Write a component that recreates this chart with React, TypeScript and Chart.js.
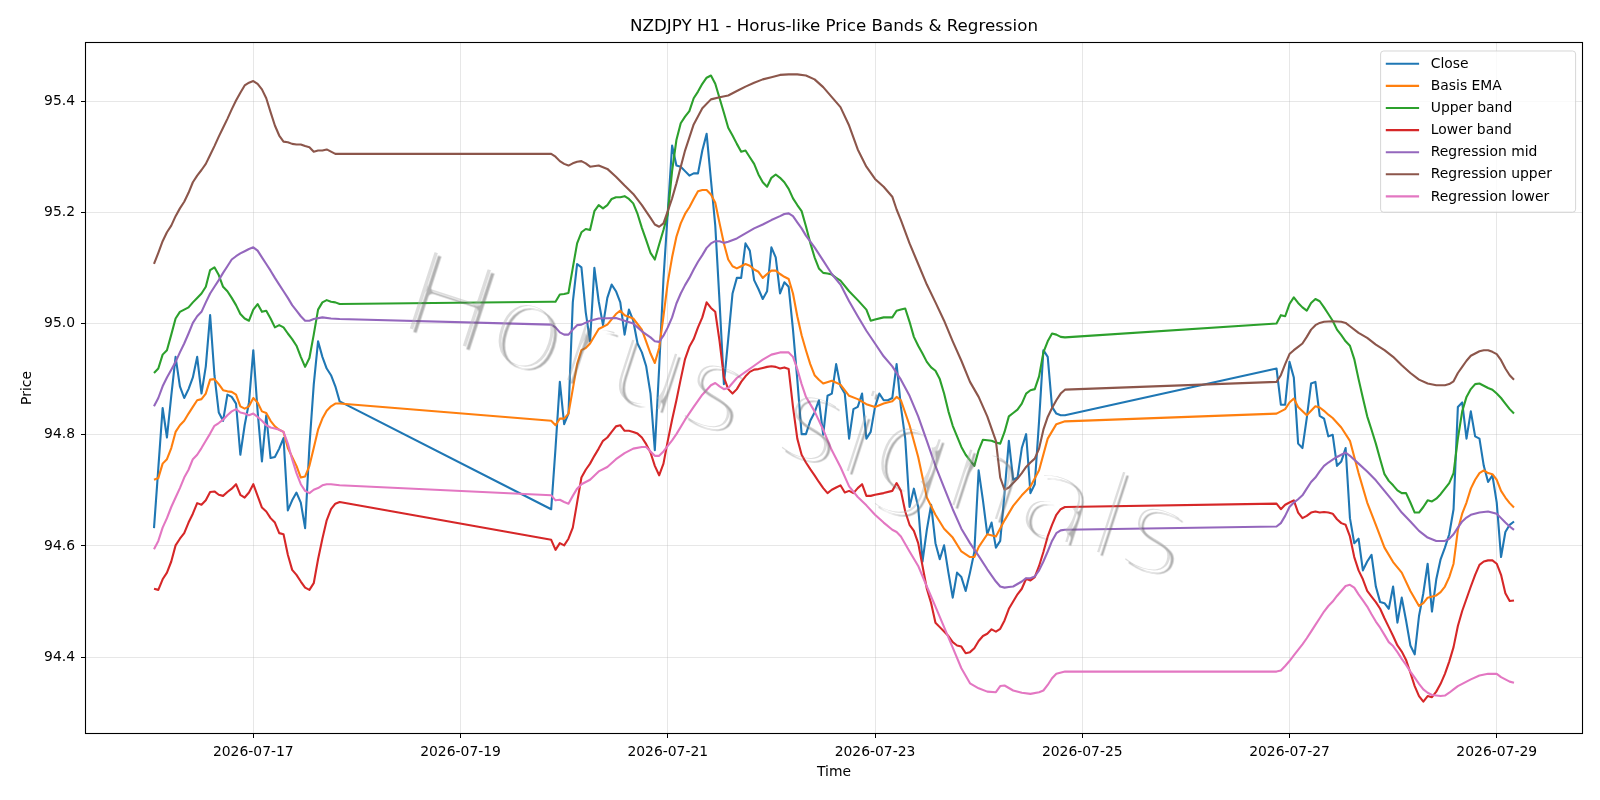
import React, { useEffect, useRef } from 'react';
import { Chart, registerables } from 'chart.js';

Chart.register(...registerables);

// Time values are hours counted from 2026-07-17 00:00 (UTC), one bar per hour.
const BASE_DATE_MS = Date.UTC(2026, 6, 17);

const chartTitle = 'NZDJPY H1 - Horus-like Price Bands & Regression';
const xAxisTitle = 'Time';
const yAxisTitle = 'Price';
const watermarkText = 'Horus signals';

const xTickStepHours = 48;
const yTickStep = 0.2;

const seriesLabels = [
  'Close',
  'Basis EMA',
  'Upper band',
  'Lower band',
  'Regression mid',
  'Regression upper',
  'Regression lower',
];
const seriesColors = ['#1f77b4', '#ff7f0e', '#2ca02c', '#d62728', '#9467bd', '#8c564b', '#e377c2'];

// Close prices, hourly, per trading session (first hour of each session below)
const sessionStartHours = [-23, 69, 237];
const closeSession1 = [
  94.632, 94.74, 94.848, 94.795, 94.87, 94.94, 94.887, 94.866, 94.882, 94.903, 94.94, 94.874,
  94.923, 95.015, 94.907, 94.84, 94.825, 94.872, 94.868, 94.856, 94.764, 94.817, 94.858, 94.952,
  94.842, 94.752, 94.835, 94.758, 94.76, 94.775, 94.794, 94.664, 94.682, 94.696, 94.678, 94.632,
  94.78, 94.89, 94.968, 94.94, 94.919, 94.907, 94.887, 94.86,
];
const closeSession2 = [
  94.666, 94.776, 94.895, 94.819, 94.838, 95.038, 95.107, 95.101, 95.02, 94.968, 95.1, 95.04,
  94.997, 95.046, 95.07, 95.058, 95.038, 94.98, 95.025, 95.005, 94.964, 94.948, 94.923, 94.874,
  94.772, 94.92, 95.08, 95.2, 95.32, 95.284, 95.282, 95.274, 95.266, 95.27, 95.27, 95.311,
  95.341, 95.258, 95.176, 95.038, 94.891, 94.972, 95.054, 95.082, 95.082, 95.144, 95.131, 95.078,
  95.062, 95.044, 95.058, 95.137, 95.119, 95.054, 95.074, 95.066, 94.989, 94.899, 94.801, 94.801,
  94.825, 94.84, 94.862, 94.8, 94.87, 94.874, 94.927, 94.887, 94.874, 94.793, 94.846, 94.85,
  94.874, 94.793, 94.805, 94.85, 94.874, 94.862, 94.862, 94.866, 94.927, 94.85, 94.793, 94.67,
  94.703, 94.67, 94.572, 94.629, 94.674, 94.605, 94.576, 94.601, 94.552, 94.507, 94.552, 94.544,
  94.519, 94.552, 94.589, 94.736, 94.682, 94.621, 94.642, 94.597, 94.609, 94.695, 94.789, 94.719,
  94.723, 94.776, 94.801, 94.695, 94.711, 94.825, 94.952, 94.94, 94.85, 94.838, 94.835, 94.835,
];
const closeSession3 = [
  94.919, 94.854, 94.854, 94.931, 94.903, 94.784, 94.776, 94.83, 94.892, 94.895, 94.834, 94.829,
  94.797, 94.8, 94.744, 94.752, 94.776, 94.65, 94.605, 94.613, 94.556, 94.572, 94.584, 94.527,
  94.499, 94.497, 94.487, 94.527, 94.462, 94.507, 94.466, 94.421, 94.405, 94.474, 94.515, 94.568,
  94.482, 94.54, 94.576, 94.597, 94.621, 94.666, 94.85, 94.858, 94.793, 94.842, 94.797, 94.793,
  94.744, 94.715, 94.727, 94.678, 94.58, 94.625, 94.638, 94.644,
];

// Indicator lines as [hour, price]
const basisEma: [number, number][] = [
  [-23, 94.719], [-22, 94.722], [-21, 94.748], [-20, 94.756], [-19, 94.776], [-18, 94.805], [-17, 94.817],
  [-16, 94.825], [-15, 94.838], [-14, 94.85], [-13, 94.862], [-12, 94.864], [-11, 94.874], [-10, 94.899],
  [-9, 94.9], [-8, 94.891], [-7, 94.88], [-6, 94.878], [-5, 94.877], [-4, 94.872], [-3, 94.851],
  [-2, 94.847], [-1, 94.851], [0, 94.866], [1, 94.858], [2, 94.842], [3, 94.839], [4, 94.825],
  [5, 94.815], [6, 94.809], [7, 94.805], [8, 94.776], [9, 94.76], [10, 94.744], [11, 94.723],
  [12, 94.725], [13, 94.744], [14, 94.776], [15, 94.809], [16, 94.829], [17, 94.843], [18, 94.851],
  [19, 94.856], [20, 94.856],
  [69, 94.825], [70, 94.817], [71, 94.829], [72, 94.829], [73, 94.838], [74, 94.882], [75, 94.927],
  [76, 94.952], [77, 94.956], [78, 94.964], [80, 94.99], [82, 94.998], [84, 95.017], [85, 95.023],
  [86, 95.015], [88, 95.009], [90, 94.989], [92, 94.946], [93, 94.929], [94, 94.956], [95, 95.013],
  [96, 95.074], [97, 95.119], [98, 95.156], [99, 95.18], [100, 95.197], [101, 95.209], [102, 95.224],
  [103, 95.238], [104, 95.24], [105, 95.24], [106, 95.232], [107, 95.217], [108, 95.18], [109, 95.144],
  [110, 95.115], [111, 95.103], [112, 95.099], [113, 95.103], [114, 95.107], [115, 95.104], [116, 95.097],
  [117, 95.093], [118, 95.082], [119, 95.089], [120, 95.095], [121, 95.095], [122, 95.089], [123, 95.084],
  [124, 95.08], [125, 95.054], [126, 95.013], [127, 94.979], [128, 94.952], [129, 94.927], [130, 94.907],
  [131, 94.899], [132, 94.892], [134, 94.897], [136, 94.89], [138, 94.87], [140, 94.864], [142, 94.855],
  [144, 94.85], [146, 94.856], [148, 94.86], [149, 94.868], [150, 94.862], [152, 94.817], [154, 94.76],
  [156, 94.687], [158, 94.656], [160, 94.631], [162, 94.615], [164, 94.59], [166, 94.58], [167, 94.58],
  [168, 94.598], [170, 94.621], [172, 94.617], [174, 94.646], [176, 94.672], [178, 94.691], [180, 94.707],
  [182, 94.736], [184, 94.793], [186, 94.819], [188, 94.824],
  [237, 94.838], [238, 94.842], [239, 94.846], [240, 94.858], [241, 94.865], [242, 94.85], [244, 94.835],
  [246, 94.851], [247, 94.849], [248, 94.843], [249, 94.836], [250, 94.83], [252, 94.813], [254, 94.789],
  [256, 94.731], [258, 94.678], [260, 94.638], [262, 94.597], [264, 94.571], [266, 94.552], [268, 94.519],
  [270, 94.492], [271, 94.497], [272, 94.507], [274, 94.511], [275, 94.517], [276, 94.527], [277, 94.544],
  [278, 94.568], [279, 94.629], [280, 94.658], [281, 94.678], [282, 94.703], [283, 94.719], [284, 94.731],
  [285, 94.736], [286, 94.731], [287, 94.729], [288, 94.719], [289, 94.699], [290, 94.687], [291, 94.677],
  [292, 94.669],
];

const upperBand: [number, number][] = [
  [-23, 94.911], [-22, 94.919], [-21, 94.944], [-20, 94.952], [-19, 94.98], [-18, 95.009], [-17, 95.021],
  [-16, 95.025], [-15, 95.029], [-14, 95.038], [-13, 95.046], [-12, 95.054], [-11, 95.066], [-10, 95.096],
  [-9, 95.101], [-8, 95.087], [-7, 95.066], [-6, 95.058], [-5, 95.046], [-4, 95.033], [-3, 95.017],
  [-2, 95.009], [-1, 95.005], [0, 95.025], [1, 95.035], [2, 95.021], [3, 95.023], [4, 95.009],
  [5, 94.993], [6, 94.997], [7, 94.993], [8, 94.982], [9, 94.972], [10, 94.96], [11, 94.94],
  [12, 94.922], [13, 94.938], [14, 94.98], [15, 95.025], [16, 95.038], [17, 95.042], [18, 95.039],
  [19, 95.038], [20, 95.035],
  [69, 95.039], [70, 95.039], [71, 95.052], [72, 95.053], [73, 95.055], [74, 95.1], [75, 95.144],
  [76, 95.164], [77, 95.17], [78, 95.168], [79, 95.202], [80, 95.213], [81, 95.207], [82, 95.213],
  [83, 95.224], [84, 95.227], [85, 95.227], [86, 95.229], [87, 95.224], [88, 95.216], [89, 95.197],
  [90, 95.172], [91, 95.15], [92, 95.127], [93, 95.115], [94, 95.142], [95, 95.168], [96, 95.197],
  [97, 95.274], [98, 95.33], [99, 95.36], [100, 95.372], [101, 95.382], [102, 95.405], [103, 95.417],
  [104, 95.431], [105, 95.442], [106, 95.446], [107, 95.431], [108, 95.405], [109, 95.379], [110, 95.352],
  [111, 95.338], [112, 95.323], [113, 95.309], [114, 95.311], [115, 95.299], [116, 95.287], [117, 95.268],
  [118, 95.254], [119, 95.246], [120, 95.262], [121, 95.268], [122, 95.262], [123, 95.254], [124, 95.242],
  [125, 95.225], [126, 95.213], [127, 95.202], [128, 95.175], [129, 95.145], [130, 95.119], [131, 95.099],
  [132, 95.091], [133, 95.09], [134, 95.088], [135, 95.082], [136, 95.077], [138, 95.058], [140, 95.042],
  [142, 95.025], [143, 95.005], [144, 95.007], [146, 95.011], [148, 95.011], [149, 95.023], [150, 95.025],
  [151, 95.027], [152, 95.003], [153, 94.976], [154, 94.96], [155, 94.946], [156, 94.931], [157, 94.921],
  [158, 94.915], [159, 94.9], [160, 94.874], [161, 94.842], [162, 94.816], [163, 94.797], [164, 94.778],
  [165, 94.764], [166, 94.754], [167, 94.744], [168, 94.772], [169, 94.791], [170, 94.79], [171, 94.789],
  [172, 94.786], [173, 94.784], [174, 94.805], [175, 94.833], [176, 94.839], [177, 94.845], [178, 94.856],
  [179, 94.874], [180, 94.88], [181, 94.882], [182, 94.905], [183, 94.948], [184, 94.968], [185, 94.982],
  [186, 94.98], [187, 94.976], [188, 94.975],
  [237, 95.0], [238, 95.015], [239, 95.013], [240, 95.035], [241, 95.047], [242, 95.037], [243, 95.029],
  [244, 95.023], [245, 95.037], [246, 95.044], [247, 95.04], [248, 95.029], [249, 95.017], [250, 95.005],
  [251, 94.989], [252, 94.979], [253, 94.968], [254, 94.96], [255, 94.936], [256, 94.9], [257, 94.866],
  [258, 94.833], [259, 94.809], [260, 94.784], [261, 94.756], [262, 94.729], [263, 94.717], [264, 94.709],
  [265, 94.7], [266, 94.695], [267, 94.695], [268, 94.678], [269, 94.66], [270, 94.66], [271, 94.67],
  [272, 94.682], [273, 94.68], [274, 94.685], [275, 94.693], [276, 94.703], [277, 94.713], [278, 94.731],
  [279, 94.793], [280, 94.842], [281, 94.868], [282, 94.882], [283, 94.891], [284, 94.892], [285, 94.888],
  [286, 94.884], [287, 94.881], [288, 94.874], [289, 94.866], [290, 94.856], [291, 94.846], [292, 94.838],
];

const lowerBand: [number, number][] = [
  [-23, 94.523], [-22, 94.521], [-21, 94.54], [-20, 94.552], [-19, 94.572], [-18, 94.601], [-17, 94.613],
  [-16, 94.623], [-15, 94.642], [-14, 94.658], [-13, 94.677], [-12, 94.674], [-11, 94.682], [-10, 94.697],
  [-9, 94.698], [-8, 94.692], [-7, 94.69], [-6, 94.697], [-5, 94.703], [-4, 94.711], [-3, 94.692],
  [-2, 94.687], [-1, 94.696], [0, 94.711], [1, 94.69], [2, 94.669], [3, 94.662], [4, 94.65],
  [5, 94.642], [6, 94.623], [7, 94.621], [8, 94.584], [9, 94.557], [10, 94.548], [11, 94.536],
  [12, 94.525], [13, 94.521], [14, 94.533], [15, 94.576], [16, 94.613], [17, 94.646], [18, 94.666],
  [19, 94.676], [20, 94.679],
  [69, 94.611], [70, 94.593], [71, 94.605], [72, 94.601], [73, 94.613], [74, 94.633], [75, 94.678],
  [76, 94.723], [77, 94.737], [78, 94.748], [79, 94.762], [80, 94.775], [81, 94.789], [82, 94.795],
  [83, 94.805], [84, 94.815], [85, 94.817], [86, 94.807], [87, 94.807], [88, 94.805], [89, 94.802],
  [90, 94.795], [91, 94.783], [92, 94.768], [93, 94.744], [94, 94.727], [95, 94.748], [96, 94.789],
  [97, 94.827], [98, 94.862], [99, 94.9], [100, 94.936], [101, 94.958], [102, 94.972], [103, 94.993],
  [104, 95.011], [105, 95.038], [106, 95.028], [107, 95.021], [108, 94.968], [109, 94.903], [110, 94.882],
  [111, 94.874], [112, 94.882], [113, 94.895], [114, 94.905], [115, 94.913], [116, 94.917], [117, 94.918],
  [118, 94.92], [119, 94.922], [120, 94.923], [121, 94.922], [122, 94.919], [123, 94.921], [124, 94.918],
  [125, 94.85], [126, 94.793], [127, 94.764], [128, 94.75], [129, 94.738], [130, 94.727], [131, 94.715],
  [132, 94.704], [133, 94.695], [134, 94.701], [135, 94.705], [136, 94.709], [137, 94.696], [138, 94.699],
  [139, 94.695], [140, 94.704], [141, 94.711], [142, 94.69], [143, 94.69], [144, 94.692], [146, 94.695],
  [148, 94.699], [149, 94.713], [150, 94.699], [151, 94.662], [152, 94.638], [153, 94.627], [154, 94.605],
  [155, 94.564], [156, 94.523], [157, 94.497], [158, 94.462], [159, 94.454], [160, 94.446], [161, 94.438],
  [162, 94.427], [163, 94.421], [164, 94.419], [165, 94.407], [166, 94.409], [167, 94.416], [168, 94.429],
  [169, 94.438], [170, 94.442], [171, 94.45], [172, 94.446], [173, 94.451], [174, 94.466], [175, 94.487],
  [176, 94.5], [177, 94.513], [178, 94.523], [179, 94.541], [180, 94.538], [181, 94.544], [182, 94.564],
  [183, 94.589], [184, 94.617], [185, 94.638], [186, 94.656], [187, 94.666], [188, 94.67],
  [237, 94.676], [238, 94.666], [239, 94.674], [240, 94.678], [241, 94.682], [242, 94.66], [243, 94.65],
  [244, 94.654], [245, 94.66], [246, 94.662], [247, 94.66], [248, 94.661], [249, 94.66], [250, 94.658],
  [251, 94.648], [252, 94.641], [253, 94.638], [254, 94.617], [255, 94.58], [256, 94.556], [257, 94.54],
  [258, 94.519], [259, 94.509], [260, 94.499], [261, 94.487], [262, 94.47], [263, 94.454], [264, 94.438],
  [265, 94.421], [266, 94.41], [267, 94.395], [268, 94.372], [269, 94.348], [270, 94.33], [271, 94.32],
  [272, 94.33], [273, 94.328], [274, 94.338], [275, 94.352], [276, 94.37], [277, 94.392], [278, 94.418],
  [279, 94.456], [280, 94.483], [281, 94.505], [282, 94.527], [283, 94.548], [284, 94.566], [285, 94.572],
  [286, 94.574], [287, 94.574], [288, 94.568], [289, 94.548], [290, 94.515], [291, 94.501], [292, 94.502],
];

const regressionMid: [number, number][] = [
  [-23, 94.851], [-22, 94.866], [-21, 94.887], [-20, 94.903], [-19, 94.917], [-18, 94.931], [-17, 94.948],
  [-16, 94.964], [-15, 94.982], [-14, 95.001], [-13, 95.013], [-12, 95.021], [-11, 95.038], [-10, 95.054],
  [-9, 95.066], [-8, 95.078], [-7, 95.091], [-6, 95.103], [-5, 95.115], [-4, 95.121], [-3, 95.126],
  [-2, 95.13], [-1, 95.134], [0, 95.137], [1, 95.131], [2, 95.119], [3, 95.107], [4, 95.095],
  [5, 95.082], [6, 95.07], [7, 95.058], [8, 95.046], [9, 95.033], [10, 95.023], [11, 95.013],
  [12, 95.005], [13, 95.005], [14, 95.008], [16, 95.011], [18, 95.009], [20, 95.008],
  [69, 94.998], [70, 94.993], [71, 94.984], [72, 94.98], [73, 94.98], [74, 94.989], [75, 94.997],
  [76, 94.998], [78, 95.005], [80, 95.009], [84, 95.01], [86, 95.005], [88, 95.0], [90, 94.986],
  [92, 94.975], [93, 94.968], [94, 94.967], [95, 94.978], [96, 94.993], [97, 95.011], [98, 95.036],
  [99, 95.054], [100, 95.069], [101, 95.082], [102, 95.097], [103, 95.111], [104, 95.123], [105, 95.136],
  [106, 95.144], [107, 95.148], [108, 95.148], [109, 95.145], [110, 95.147], [112, 95.153], [114, 95.162],
  [116, 95.171], [118, 95.178], [120, 95.186], [122, 95.193], [123, 95.197], [124, 95.198], [125, 95.193],
  [126, 95.182], [127, 95.171], [128, 95.158], [130, 95.137], [132, 95.113], [134, 95.089], [136, 95.07],
  [138, 95.04], [140, 95.013], [142, 94.987], [144, 94.964], [146, 94.941], [148, 94.923], [150, 94.899],
  [152, 94.87], [154, 94.833], [156, 94.789], [158, 94.744], [160, 94.705], [162, 94.666], [164, 94.631],
  [166, 94.605], [168, 94.582], [170, 94.558], [172, 94.536], [173, 94.527], [174, 94.525], [175, 94.526],
  [176, 94.527], [178, 94.536], [179, 94.542], [180, 94.542], [181, 94.545], [182, 94.556], [183, 94.572],
  [184, 94.59], [185, 94.609], [186, 94.623], [187, 94.628], [188, 94.629],
  [237, 94.635], [238, 94.641], [239, 94.654], [240, 94.67], [241, 94.678], [242, 94.684], [243, 94.691],
  [244, 94.703], [245, 94.715], [246, 94.723], [247, 94.734], [248, 94.744], [249, 94.75], [250, 94.755],
  [251, 94.76], [252, 94.764], [253, 94.768], [254, 94.762], [256, 94.748], [258, 94.734], [260, 94.718],
  [262, 94.699], [264, 94.68], [266, 94.66], [268, 94.644], [270, 94.627], [272, 94.615], [274, 94.609],
  [276, 94.609], [277, 94.613], [278, 94.621], [279, 94.633], [280, 94.644], [281, 94.651], [282, 94.656],
  [284, 94.66], [286, 94.662], [288, 94.658], [289, 94.65], [290, 94.642], [291, 94.635], [292, 94.629],
];

const regressionUpper: [number, number][] = [
  [-23, 95.107], [-22, 95.127], [-21, 95.148], [-20, 95.164], [-19, 95.176], [-18, 95.193], [-17, 95.207],
  [-16, 95.219], [-15, 95.235], [-14, 95.254], [-13, 95.266], [-12, 95.276], [-11, 95.287], [-10, 95.303],
  [-9, 95.319], [-8, 95.336], [-7, 95.352], [-6, 95.368], [-5, 95.385], [-4, 95.401], [-3, 95.415],
  [-2, 95.428], [-1, 95.433], [0, 95.436], [1, 95.431], [2, 95.421], [3, 95.405], [4, 95.38],
  [5, 95.356], [6, 95.338], [7, 95.327], [8, 95.326], [9, 95.323], [10, 95.322], [11, 95.322],
  [12, 95.319], [13, 95.317], [14, 95.309], [15, 95.311], [16, 95.311], [17, 95.313], [18, 95.309],
  [19, 95.305], [20, 95.305],
  [69, 95.305], [70, 95.3], [71, 95.292], [72, 95.287], [73, 95.284], [74, 95.288], [75, 95.291],
  [76, 95.292], [77, 95.288], [78, 95.282], [80, 95.284], [82, 95.278], [84, 95.264], [86, 95.248],
  [88, 95.233], [90, 95.213], [92, 95.19], [93, 95.178], [94, 95.174], [95, 95.18], [96, 95.202],
  [97, 95.225], [98, 95.252], [100, 95.311], [102, 95.358], [104, 95.387], [106, 95.403], [108, 95.407],
  [110, 95.41], [112, 95.418], [114, 95.426], [116, 95.433], [118, 95.439], [120, 95.443], [122, 95.447],
  [124, 95.448], [126, 95.448], [128, 95.446], [130, 95.439], [132, 95.425], [134, 95.407], [136, 95.389],
  [138, 95.356], [140, 95.313], [142, 95.282], [144, 95.26], [146, 95.246], [148, 95.228], [149, 95.205],
  [150, 95.186], [152, 95.144], [154, 95.107], [156, 95.07], [158, 95.038], [160, 95.005], [162, 94.968],
  [164, 94.933], [166, 94.895], [168, 94.868], [170, 94.833], [172, 94.789], [173, 94.723], [174, 94.701],
  [175, 94.705], [176, 94.713], [177, 94.721], [178, 94.731], [179, 94.742], [180, 94.75], [181, 94.757],
  [182, 94.775], [183, 94.809], [184, 94.832], [185, 94.848], [186, 94.862], [187, 94.874], [188, 94.881],
  [237, 94.895], [238, 94.907], [239, 94.927], [240, 94.945], [241, 94.952], [242, 94.958], [243, 94.964],
  [244, 94.976], [245, 94.989], [246, 94.997], [247, 95.001], [248, 95.003], [250, 95.004], [252, 95.003],
  [253, 95.001], [254, 94.995], [256, 94.983], [258, 94.974], [260, 94.962], [262, 94.952], [264, 94.94],
  [266, 94.925], [268, 94.911], [270, 94.899], [272, 94.892], [274, 94.889], [276, 94.889], [277, 94.891],
  [278, 94.896], [279, 94.911], [280, 94.922], [281, 94.933], [282, 94.942], [283, 94.946], [284, 94.95],
  [285, 94.952], [286, 94.952], [287, 94.949], [288, 94.945], [289, 94.934], [290, 94.919], [291, 94.907],
  [292, 94.899],
];

const regressionLower: [number, number][] = [
  [-23, 94.594], [-22, 94.609], [-21, 94.633], [-20, 94.65], [-19, 94.67], [-18, 94.687], [-17, 94.704],
  [-16, 94.723], [-15, 94.737], [-14, 94.756], [-13, 94.764], [-12, 94.776], [-11, 94.789], [-10, 94.802],
  [-9, 94.816], [-8, 94.821], [-7, 94.827], [-6, 94.835], [-5, 94.842], [-4, 94.846], [-3, 94.84],
  [-2, 94.838], [-1, 94.835], [0, 94.838], [1, 94.832], [2, 94.825], [3, 94.817], [4, 94.813],
  [5, 94.811], [6, 94.809], [7, 94.805], [8, 94.784], [9, 94.756], [10, 94.731], [11, 94.711],
  [12, 94.699], [13, 94.695], [14, 94.701], [15, 94.704], [16, 94.709], [17, 94.711], [18, 94.711],
  [20, 94.709],
  [69, 94.691], [70, 94.682], [71, 94.683], [72, 94.679], [73, 94.676], [74, 94.69], [75, 94.703],
  [76, 94.711], [78, 94.719], [80, 94.734], [82, 94.742], [84, 94.756], [86, 94.767], [88, 94.775],
  [90, 94.778], [91, 94.778], [92, 94.77], [93, 94.762], [94, 94.762], [95, 94.77], [96, 94.78],
  [97, 94.79], [98, 94.801], [100, 94.827], [102, 94.85], [104, 94.872], [106, 94.889], [107, 94.893],
  [108, 94.887], [109, 94.882], [110, 94.884], [112, 94.902], [114, 94.913], [116, 94.924], [118, 94.935],
  [120, 94.944], [122, 94.948], [124, 94.948], [125, 94.94], [126, 94.918], [127, 94.891], [128, 94.868],
  [130, 94.842], [132, 94.809], [134, 94.772], [136, 94.742], [138, 94.707], [140, 94.688], [142, 94.673],
  [144, 94.656], [146, 94.642], [148, 94.629], [149, 94.625], [150, 94.617], [152, 94.59], [154, 94.564],
  [156, 94.527], [158, 94.491], [160, 94.454], [162, 94.417], [164, 94.38], [166, 94.353], [168, 94.344],
  [170, 94.338], [172, 94.337], [173, 94.348], [174, 94.349], [176, 94.34], [178, 94.336], [180, 94.334],
  [182, 94.337], [183, 94.34], [184, 94.35], [185, 94.362], [186, 94.37], [188, 94.374],
  [237, 94.374], [238, 94.376], [239, 94.384], [240, 94.393], [241, 94.403], [242, 94.413], [243, 94.423],
  [244, 94.434], [245, 94.446], [246, 94.458], [247, 94.47], [248, 94.482], [249, 94.492], [250, 94.5],
  [251, 94.51], [252, 94.519], [253, 94.528], [254, 94.53], [255, 94.525], [256, 94.513], [257, 94.502],
  [258, 94.491], [259, 94.477], [260, 94.464], [261, 94.453], [262, 94.44], [263, 94.427], [264, 94.42],
  [265, 94.409], [266, 94.397], [267, 94.386], [268, 94.374], [269, 94.363], [270, 94.352], [271, 94.342],
  [272, 94.336], [273, 94.332], [274, 94.331], [275, 94.33], [276, 94.331], [277, 94.336], [278, 94.342],
  [279, 94.348], [280, 94.352], [281, 94.356], [282, 94.36], [284, 94.367], [286, 94.37], [288, 94.37],
  [289, 94.364], [290, 94.36], [291, 94.356], [292, 94.354],
];

const FONT_FAMILY = '"DejaVu Sans", "Liberation Sans", sans-serif';
const TICK_FONT_PX = 13.9;
const TITLE_FONT_PX = 16.7;

type Pt = { x: number; y: number };

function closePoints(): Pt[] {
  const sessions = [closeSession1, closeSession2, closeSession3];
  const pts: Pt[] = [];
  sessions.forEach((vals, s) => {
    vals.forEach((v, i) => pts.push({ x: sessionStartHours[s] + i, y: v }));
  });
  return pts;
}

const toPoints = (pairs: [number, number][]): Pt[] => pairs.map(([x, y]) => ({ x, y }));

function formatDay(hours: number): string {
  const d = new Date(BASE_DATE_MS + hours * 3600 * 1000);
  return d.toISOString().slice(0, 10);
}

// Thin, light watermark lettering: the glyphs are filled, then their outline is
// cut away so only a slim core of each stroke remains.
function thinTextLayer(
  w: number,
  h: number,
  color: string,
  cx: number,
  cy: number,
  angle: number,
  size: number,
  cut: number,
): HTMLCanvasElement {
  const off = document.createElement('canvas');
  off.width = w;
  off.height = h;
  const o = off.getContext('2d')!;
  o.translate(cx, cy);
  o.rotate(angle);
  o.font = `${size}px ${FONT_FAMILY}`;
  o.textAlign = 'center';
  o.textBaseline = 'alphabetic';
  const baseY = 0.365 * size;
  o.fillStyle = color;
  o.fillText(watermarkText, 0, baseY);
  o.globalCompositeOperation = 'destination-out';
  o.strokeStyle = '#000';
  o.lineJoin = 'round';
  o.lineWidth = cut;
  o.strokeText(watermarkText, 0, baseY);
  return off;
}

// Frame, title, legend and watermark drawn on the chart canvas
const decorPlugin = {
  id: 'decor',
  afterDatasetsDraw(chart: any) {
    const { ctx, chartArea: a } = chart;
    ctx.save();
    ctx.strokeStyle = '#000';
    ctx.lineWidth = 1.1;
    ctx.strokeRect(Math.round(a.left) - 0.5, Math.round(a.top) - 0.5,
      Math.round(a.right - a.left) + 1, Math.round(a.bottom - a.top) + 1);
    ctx.restore();
  },
  afterDraw(chart: any) {
    const { ctx, chartArea: a } = chart;
    ctx.save();

    // title
    ctx.fillStyle = '#000';
    ctx.font = `${TITLE_FONT_PX}px ${FONT_FAMILY}`;
    ctx.textAlign = 'center';
    ctx.textBaseline = 'alphabetic';
    ctx.fillText(chartTitle, (a.left + a.right) / 2, a.top - 12.3);

    // legend (upper right)
    const fs = TICK_FONT_PX;
    const rowPitch = 22.1;
    const boxW = 195;
    const boxRight = a.right - 6.9;
    const boxLeft = boxRight - boxW;
    const boxTop = a.top + 7.5;
    const n = chart.data.datasets.length;
    const boxH = 10.6 + rowPitch * (n - 1) + 16 + 2;
    ctx.beginPath();
    ctx.roundRect(boxLeft + 0.5, boxTop + 0.5, boxW, boxH, 3);
    ctx.fillStyle = 'rgba(255,255,255,0.8)';
    ctx.fill();
    ctx.strokeStyle = 'rgba(204,204,204,0.8)';
    ctx.lineWidth = 1;
    ctx.stroke();
    ctx.font = `${fs}px ${FONT_FAMILY}`;
    ctx.textAlign = 'left';
    ctx.textBaseline = 'middle';
    chart.data.datasets.forEach((ds: any, i: number) => {
      const y = boxTop + 13.3 + rowPitch * i;
      ctx.strokeStyle = ds.borderColor;
      ctx.lineWidth = 2.1;
      ctx.beginPath();
      ctx.moveTo(boxLeft + 5.7, y);
      ctx.lineTo(boxLeft + 39, y);
      ctx.stroke();
      ctx.fillStyle = '#000';
      ctx.fillText(ds.label, boxLeft + 50.7, y + 0.5);
    });
    ctx.restore();

    // watermark: light lettering with a darker offset shadow
    const w = chart.width;
    const h = chart.height;
    const angle = (18 * Math.PI) / 180;
    const size = 122;
    const cx = 797;
    const cy = 412;
    const cut = 8.6;
    const shadow = thinTextLayer(w, h, 'rgba(100,100,100,0.5)', cx, cy, angle, size, cut);
    const face = thinTextLayer(w, h, 'rgba(175,175,175,0.42)', cx, cy, angle, size, cut);
    ctx.save();
    ctx.setTransform(1, 0, 0, 1, 0, 0);
    ctx.drawImage(shadow, 3.5, 3.5);
    ctx.drawImage(face, 0, 0);
    ctx.restore();
  },
};

export default function App() {
  const canvasRef = useRef<HTMLCanvasElement | null>(null);

  useEffect(() => {
    const canvas = canvasRef.current;
    if (!canvas) return;

    const seriesPoints: Pt[][] = [
      closePoints(),
      toPoints(basisEma),
      toPoints(upperBand),
      toPoints(lowerBand),
      toPoints(regressionMid),
      toPoints(regressionUpper),
      toPoints(regressionLower),
    ];

    // axis limits with 5% margins around the data
    const allX = seriesPoints.flat().map((p) => p.x);
    const allY = seriesPoints.flat().map((p) => p.y);
    const xMin0 = Math.min(...allX);
    const xMax0 = Math.max(...allX);
    const yMin0 = Math.min(...allY);
    const yMax0 = Math.max(...allY);
    const xPad = (xMax0 - xMin0) * 0.05;
    const yPad = (yMax0 - yMin0) * 0.05;

    const datasets = seriesPoints.map((pts, i) => ({
      label: seriesLabels[i],
      data: pts,
      borderColor: seriesColors[i],
      backgroundColor: seriesColors[i],
      borderWidth: 2.1,
      pointRadius: 0,
      pointHoverRadius: 0,
      tension: 0,
      fill: false,
      borderJoinStyle: 'round' as const,
      borderCapStyle: 'butt' as const,
      // first series is drawn first (underneath), last on top
      order: seriesPoints.length - 1 - i,
    }));

    const gridColor = 'rgba(176,176,176,0.3)';
    const tickFont = { family: FONT_FAMILY, size: TICK_FONT_PX };

    const chart = new Chart(canvas, {
      type: 'line',
      data: { datasets },
      options: {
        responsive: false,
        animation: false,
        devicePixelRatio: 1,
        events: [],
        layout: { padding: { left: 0, right: 18, top: 43, bottom: 0 } },
        plugins: {
          legend: { display: false },
          title: { display: false },
          tooltip: { enabled: false },
        },
        scales: {
          x: {
            type: 'linear',
            position: 'bottom',
            min: xMin0 - xPad,
            max: xMax0 + xPad,
            afterFit: (scale: any) => {
              scale.height = 67;
            },
            ticks: {
              stepSize: xTickStepHours,
              includeBounds: false,
              autoSkip: false,
              maxRotation: 0,
              padding: 6,
              color: '#000',
              font: tickFont,
              callback: (v: any) => formatDay(Number(v)),
            },
            grid: {
              color: gridColor,
              lineWidth: 1,
              drawTicks: true,
              tickLength: 5,
              tickColor: '#000',
              tickWidth: 1,
            },
            border: { display: false },
            title: {
              display: true,
              text: xAxisTitle,
              color: '#000',
              font: tickFont,
              padding: { top: 0, bottom: 19 },
            },
          },
          y: {
            type: 'linear',
            position: 'left',
            min: yMin0 - yPad,
            max: yMax0 + yPad,
            afterFit: (scale: any) => {
              scale.width = 86;
            },
            ticks: {
              stepSize: yTickStep,
              includeBounds: false,
              padding: 6,
              color: '#000',
              font: tickFont,
              callback: (v: any) => Number(v).toFixed(1),
            },
            grid: {
              color: gridColor,
              lineWidth: 1,
              drawTicks: true,
              tickLength: 5,
              tickColor: '#000',
              tickWidth: 1,
            },
            border: { display: false },
            title: {
              display: true,
              text: yAxisTitle,
              color: '#000',
              font: tickFont,
              padding: { top: 19, bottom: 0 },
            },
          },
        },
      },
      plugins: [decorPlugin],
    } as any);

    return () => {
      chart.destroy();
    };
  }, []);

  return (
    <div
      style={{
        position: 'fixed',
        left: 0,
        top: 0,
        width: 1600,
        height: 800,
        background: '#fff',
      }}
    >
      <canvas ref={canvasRef} width={1600} height={800} style={{ display: 'block', width: 1600, height: 800 }} />
    </div>
  );
}
